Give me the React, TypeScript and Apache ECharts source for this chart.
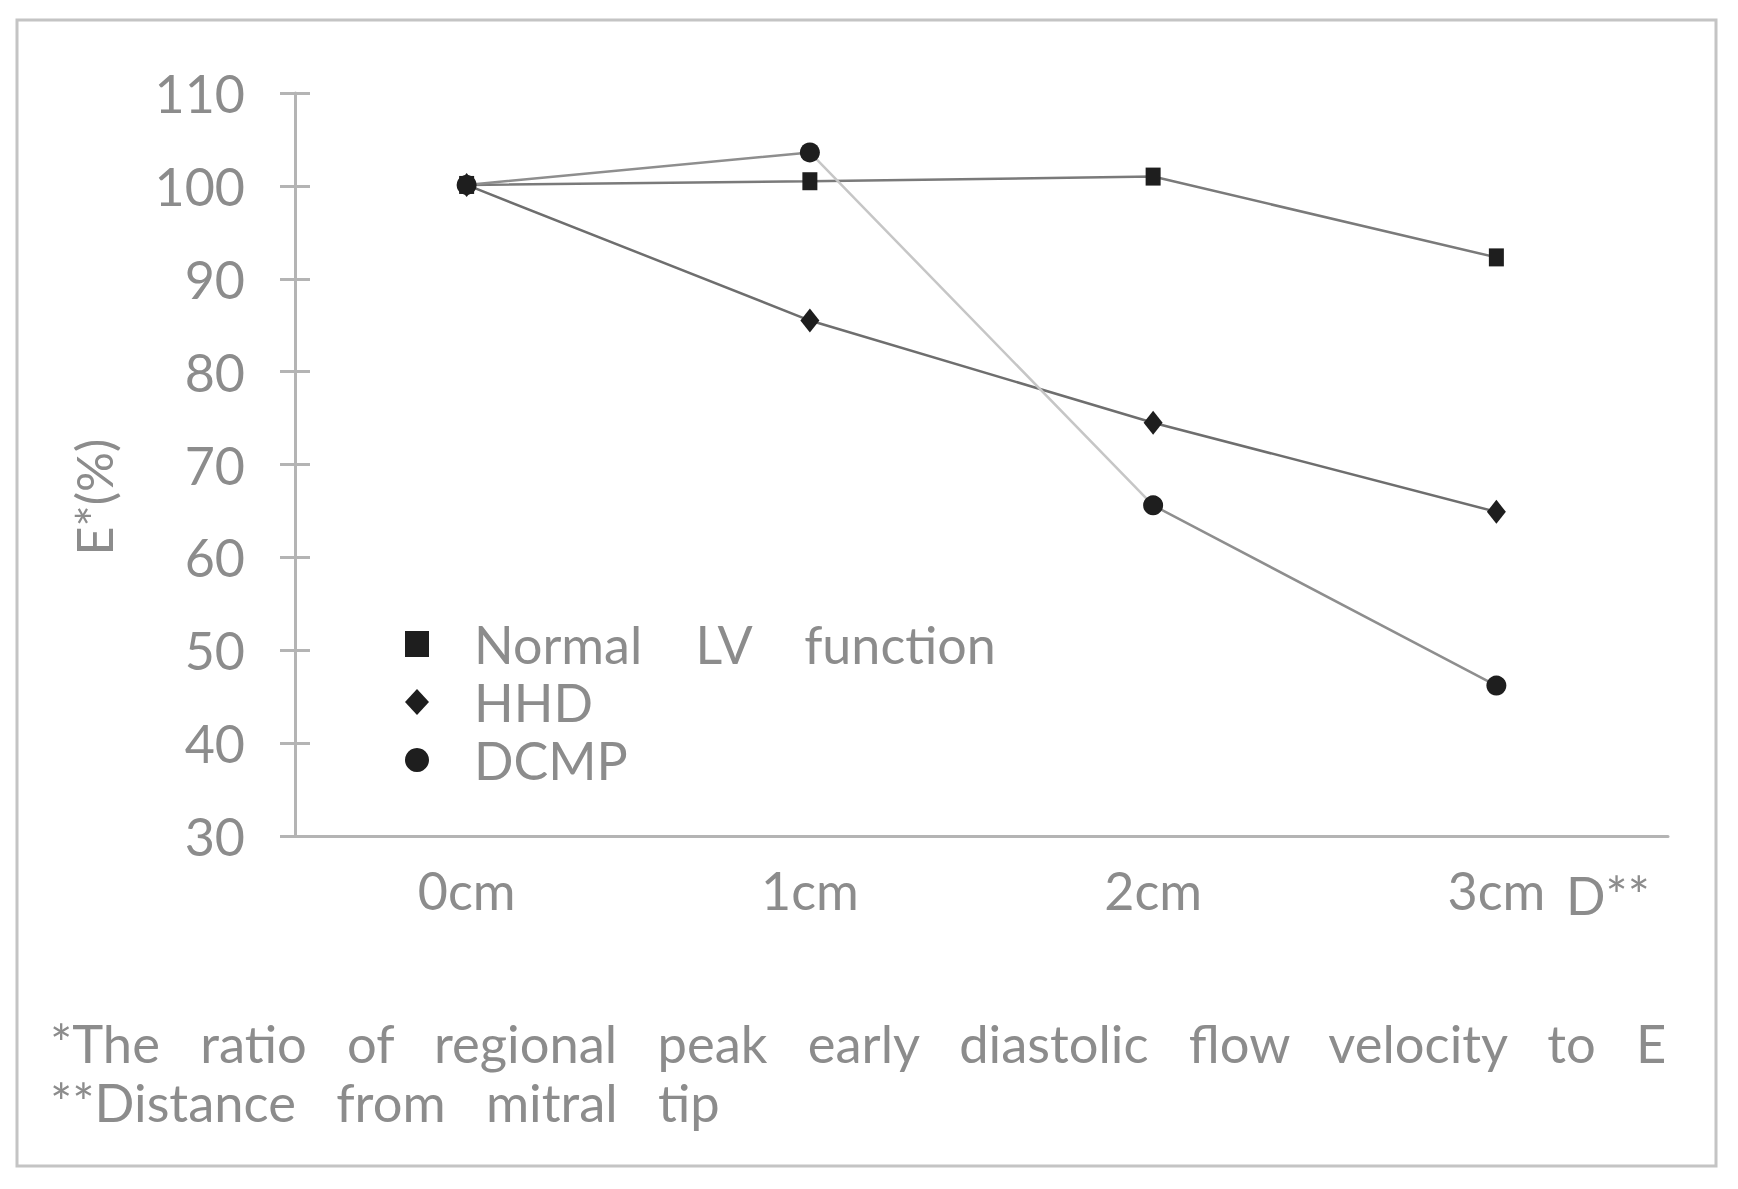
import React, { useEffect, useRef } from "react";
import * as echarts from "echarts";

const categories = ["0cm", "1cm", "2cm", "3cm"];
const normalLV = [100.1, 100.5, 101, 92.3];
const hhd = [100.1, 85.5, 74.5, 64.9];
const dcmp = [100.1, 103.6, 65.6, 46.2];
const yTicks = { min: 30, max: 110, interval: 10 };
const seriesNames = ["Normal LV function", "HHD", "DCMP"];
const yTitle = "E*(%)";
const xEndLabel = "D**";
const footnotes = [
  "*The ratio of regional peak early diastolic flow velocity to E",
  "**Distance from mitral tip",
];

const FONT = "Lato";
const GRAY = "#8c8c8c";
const AXIS = "#b4b4b4";
const wide = (s: string, n: number) => s.split(" ").join("\u00a0".repeat(n));

export default function App() {
  const ref = useRef<HTMLDivElement>(null);
  useEffect(() => {
    if (!ref.current) return;
    const chart = echarts.init(ref.current, null, { renderer: "svg" });
    const marker = "#1e1e1e";
    const dark = "#8e8e8e";
    const light = "#c6c6c6";
    const dcmpLine = new echarts.graphic.LinearGradient(0, 0, 1, 0, [
      { offset: 0, color: dark },
      { offset: 0.333, color: dark },
      { offset: 0.334, color: light },
      { offset: 0.666, color: light },
      { offset: 0.667, color: dark },
      { offset: 1, color: dark },
    ]);
    chart.setOption({
      animation: false,
      backgroundColor: "#ffffff",
      grid: { left: 295, right: 70, top: 93, bottom: 353 },
      xAxis: {
        type: "category",
        data: categories,
        boundaryGap: true,
        axisLine: { lineStyle: { color: AXIS, width: 3 } },
        axisTick: { show: false },
        axisLabel: { color: GRAY, fontFamily: FONT, fontSize: 52, margin: 28 },
      },
      yAxis: [
        {
          type: "value",
          min: yTicks.min,
          max: yTicks.max,
          interval: yTicks.interval,
          splitLine: { show: false },
          axisLine: { show: true, lineStyle: { color: AXIS, width: 3 } },
          axisTick: { show: true, length: 15, lineStyle: { color: AXIS, width: 3 } },
          axisLabel: { color: GRAY, fontFamily: FONT, fontSize: 52, margin: 50 },
        },
        {
          type: "value",
          position: "left",
          min: yTicks.min,
          max: yTicks.max,
          interval: yTicks.interval,
          splitLine: { show: false },
          axisLine: { show: false },
          axisTick: { show: true, inside: true, length: 15, lineStyle: { color: AXIS, width: 3 } },
          axisLabel: { show: false },
        },
      ],
      legend: {
        orient: "vertical",
        left: 400,
        top: 610,
        itemWidth: 24,
        itemHeight: 26,
        itemGap: 0,
        formatter: (name: string) => wide(name, 4),
        textStyle: { color: GRAY, fontFamily: FONT, fontSize: 52, lineHeight: 58, padding: [0, 0, 0, 40] },
        data: [
          { name: seriesNames[0], icon: "rect", itemStyle: { color: marker } },
          { name: seriesNames[1], icon: "diamond", itemStyle: { color: marker } },
          { name: seriesNames[2], icon: "circle", itemStyle: { color: marker } },
        ],
      },
      series: [
        {
          name: seriesNames[0],
          type: "line",
          data: normalLV,
          symbol: "rect",
          symbolSize: [15, 18],
          itemStyle: { color: marker },
          lineStyle: { color: "#7a7a7a", width: 2.5 },
        },
        {
          name: seriesNames[1],
          type: "line",
          data: hhd,
          symbol: "diamond",
          symbolSize: [19, 24],
          itemStyle: { color: marker },
          lineStyle: { color: "#6e6e6e", width: 2.5 },
        },
        {
          name: seriesNames[2],
          type: "line",
          data: dcmp,
          symbol: "circle",
          symbolSize: 20,
          itemStyle: { color: marker },
          lineStyle: { color: dcmpLine, width: 2.5 },
        },
      ],
      graphic: [
        {
          type: "rect",
          shape: { x: 17, y: 20, width: 1699, height: 1146 },
          style: { fill: "none", stroke: "#c4c4c4", lineWidth: 3 },
          z: -1,
        },
        {
          type: "text",
          x: 94,
          y: 497,
          rotation: Math.PI / 2,
          style: { text: yTitle, fill: GRAY, font: `50px ${FONT}`, align: "center", verticalAlign: "middle" },
        },
        {
          type: "text",
          x: 1566,
          y: 895,
          style: { text: xEndLabel, fill: GRAY, font: `52px ${FONT}`, align: "left", verticalAlign: "middle" },
        },
        {
          type: "text",
          x: 50,
          y: 1042,
          style: { text: wide(footnotes[0], 3), fill: GRAY, font: `52.5px ${FONT}`, align: "left", verticalAlign: "middle" },
        },
        {
          type: "text",
          x: 50,
          y: 1101,
          style: { text: wide(footnotes[1], 3), fill: GRAY, font: `52.5px ${FONT}`, align: "left", verticalAlign: "middle" },
        },
      ],
    });
    return () => chart.dispose();
  }, []);
  return (
    <div
      ref={ref}
      style={{ position: "fixed", left: 0, top: 0, width: 1738, height: 1189, background: "#fff" }}
    />
  );
}
